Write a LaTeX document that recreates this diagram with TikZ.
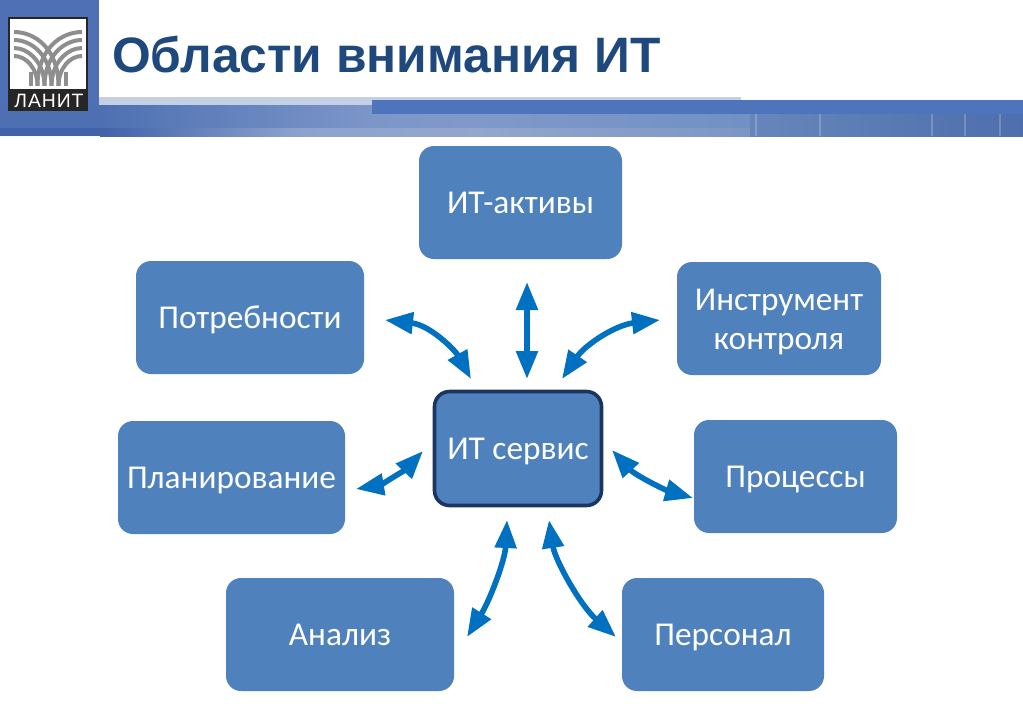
\documentclass[tikz,border=0pt]{standalone}
\usepackage{fontspec}
\setmainfont{Carlito}
\newfontfamily\titlefont{Liberation Sans}
\newfontfamily\logofont[LetterSpace=5]{Liberation Sans}
\usetikzlibrary{arrows.meta}
\definecolor{boxblue}{HTML}{4F81BD}
\definecolor{arrowblue}{HTML}{0070C0}
\definecolor{titleblue}{HTML}{1F497D}
\definecolor{darkedge}{HTML}{1C3560}
\definecolor{headblue}{HTML}{4F70B5}
\definecolor{barblue}{HTML}{4E75BB}
\definecolor{lightband}{HTML}{C5CFE3}
\definecolor{logogray}{HTML}{8E8E8E}
\definecolor{ua}{HTML}{4E70B2}
\definecolor{ub}{HTML}{7C96C8}
\definecolor{uc}{HTML}{8099C8}
\definecolor{ud}{HTML}{7091C4}
\definecolor{ue}{HTML}{6686BB}
\definecolor{uf}{HTML}{4E6EAD}
\definecolor{la}{HTML}{4062A9}
\definecolor{lb}{HTML}{8DA3CE}
\definecolor{lc}{HTML}{93A6CC}
\definecolor{ld}{HTML}{7C96C4}
\def\px{0.75pt}
\newcommand{\lowerline}[1]{\raisebox{-2.4pt}[\height][\depth]{#1}}
\tikzset{
  basebox/.style={rectangle,rounded corners=15*\px,fill=boxblue,draw=none,text=white,
    minimum height=113*\px,outer sep=0pt,inner sep=0pt,align=center,
    font=\fontsize{25pt}{29.3pt}\selectfont},
  areabox/.style={basebox,text height=21pt,text depth=4.5pt},
  centerbox/.style={areabox,draw=darkedge,line width=3.6*\px,minimum width=167*\px,minimum height=114*\px},
  biarrow/.style={draw=arrowblue,line width=5.6*\px,
    {Triangle[length=28*\px,width=21*\px]}-{Triangle[length=28*\px,width=21*\px]}},
  logoarc/.style={draw=logogray,line width=4*\px},
  hairline/.style={draw=white,draw opacity=.2,line width=1.2*\px}
}
\begin{document}
\begin{tikzpicture}[x=0.75pt,y=-0.75pt]
\useasboundingbox (0,0) rectangle (1023,708);
\fill[white] (0,0) rectangle (1023,708);
% header
\fill[lightband] (99,97) rectangle (741,106);
\fill[headblue] (0,0) rectangle (99,106);
\fill[ua] (0,105) rectangle (100,128);
\fill[left color=ua,right color=ub] (100,105) rectangle (372,128);
\fill[left color=ub,right color=uc] (372,105) rectangle (470,128);
\fill[left color=uc,right color=ud] (470,105) rectangle (750,128);
\fill[la] (0,128) rectangle (100,136);
\fill[left color=la,right color=lb] (100,128) rectangle (300,136);
\fill[left color=lb,right color=lc] (300,128) rectangle (480,136);
\fill[left color=lc,right color=ld] (480,128) rectangle (750,136);
\fill[left color=ue,right color=uf] (750,105) rectangle (1023,136);
\fill[barblue] (372,100) rectangle (1023,114);
\foreach \lx in {756,820,932,965,1000}{\draw[hairline] (\lx,114) -- (\lx,136);}
% logo
\fill[black!85] (8,17) rectangle (88,111);
\fill[white] (10,19) rectangle (86,89);
\begin{scope}
\clip (14,19) rectangle (82,85);
\foreach \mx/\sg in {0/1,96/-1}{
  \begin{scope}[shift={(\mx,0)},xscale=\sg]
  \draw[logoarc] (14,32) .. controls (36,32) and (58.5,50) .. (58.5,86);
  \draw[logoarc] (14,40) .. controls (32,40) and (51.5,56) .. (51.5,86);
  \draw[logoarc] (14,48) .. controls (28,48) and (44.5,62) .. (44.5,86);
  \draw[logoarc] (14,56) .. controls (26,56) and (37.5,68) .. (37.5,86);
  \draw[logoarc] (30.5,72) -- (30.5,86);
  \end{scope}}
\end{scope}
\node[text=white,anchor=base,inner sep=0pt,font=\logofont\fontsize{14.5pt}{14.5pt}\selectfont] (logotext) at (49,107) {ЛАНИТ};
% title
\node[anchor=base west,inner sep=0pt,text=titleblue,font=\titlefont\bfseries\fontsize{37.3pt}{40pt}\selectfont] (title) at (112,72) {Области внимания ИТ};
% boxes
\node[areabox,minimum width=203*\px] (assets) at (520.5,202.5) {ИТ-активы};
\node[areabox,minimum width=228*\px] (needs) at (250,317.5) {Потребности};
\node[basebox,minimum width=204*\px] (tools) at (779,318.5) {\lowerline{Инструмент}\\\lowerline{контроля}};
\node[areabox,minimum width=227*\px] (plan) at (231.5,477.5) {Планирование};
\node[areabox,minimum width=203*\px] (proc) at (795.5,476.5) {Процессы};
\node[areabox,minimum width=228*\px] (analysis) at (340,634.5) {Анализ};
\node[areabox,minimum width=202*\px] (staff) at (723,634.5) {Персонал};
\node[centerbox] (service) at (518,448.5) {ИТ сервис};
% free ends of the arrows
\coordinate (nA) at (385,320);\coordinate (sA) at (471,379);
\coordinate (nB) at (527,282);\coordinate (sB) at (527,379);
\coordinate (nC) at (660,320);\coordinate (sC) at (562,379);
\coordinate (nD) at (356,489);\coordinate (sD) at (423,451);
\coordinate (nE) at (693,498);\coordinate (sE) at (612,450);
\coordinate (nF) at (467,637);\coordinate (sF) at (507,520);
\coordinate (nG) at (616,637);\coordinate (sG) at (549,520);
\draw[biarrow] (nA) .. controls (430,325) and (455,350) .. (sA);
\draw[biarrow] (nB) -- (sB);
\draw[biarrow] (nC) .. controls (615,325) and (585,345) .. (sC);
\draw[biarrow] (nD) .. controls (380,485) and (405,470) .. (sD);
\draw[biarrow] (nE) .. controls (665,490) and (635,475) .. (sE);
\draw[biarrow] (nF) .. controls (490,600) and (505,560) .. (sF);
\draw[biarrow] (nG) .. controls (580,605) and (555,560) .. (sG);
\end{tikzpicture}
\end{document}
